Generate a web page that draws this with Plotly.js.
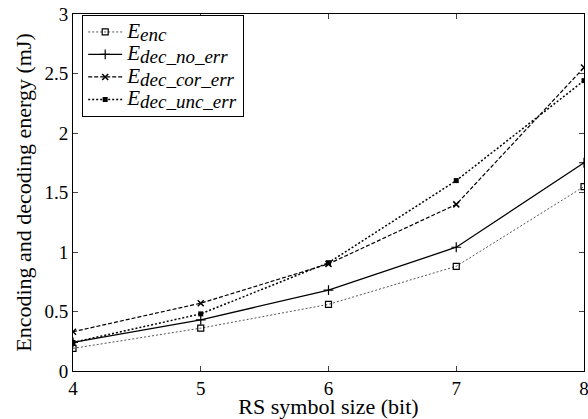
<!DOCTYPE html>
<html><head><meta charset="utf-8">
<script src="https://cdn.plot.ly/plotly-3.0.1.min.js"></script>
<style>body{margin:0;background:#fff}#c{width:588px;height:419px}</style>
</head><body><div id="c"></div>
<script>
const symbolSize = [4, 5, 6, 7, 8];
const eEnc = [0.19, 0.36, 0.56, 0.88, 1.55];
const eDecNoErr = [0.24, 0.43, 0.68, 1.04, 1.75];
const eDecCorErr = [0.33, 0.57, 0.90, 1.40, 2.55];
const eDecUncErr = [0.24, 0.48, 0.91, 1.60, 2.44];
const subs = ['enc', 'dec_no_err', 'dec_cor_err', 'dec_unc_err'];
const names = subs.map(s => '<i><span style="font-size:21px">E</span><sub><span style="font-size:19px">' + s + '</span></sub></i>');

const traces = [
  {x: symbolSize, y: eEnc, name: names[0], mode: 'lines+markers',
   line: {color: '#555', width: 1, dash: '2px,2px'},
   marker: {symbol: 'square-open', size: 6, color: '#000', line: {width: 1.2}}},
  {x: symbolSize, y: eDecNoErr, name: names[1], mode: 'lines+markers',
   line: {color: '#000', width: 1.3},
   marker: {symbol: 'cross-thin-open', size: 7, color: '#000', line: {width: 1.2, color: '#000'}}},
  {x: symbolSize, y: eDecCorErr, name: names[2], mode: 'lines+markers',
   line: {color: '#000', width: 1.2, dash: '4px,2px'},
   marker: {symbol: 'x-thin-open', size: 6, color: '#000', line: {width: 1.5, color: '#000'}}},
  {x: symbolSize, y: eDecUncErr, name: names[3], mode: 'lines+markers',
   line: {color: '#000', width: 1.5, dash: '2px,2px'},
   marker: {symbol: 'square', size: 5, color: '#000'}}
];

const layout = {
  width: 588, height: 419,
  margin: {l: 73, r: 4, t: 14, b: 48},
  paper_bgcolor: '#fff', plot_bgcolor: '#fff',
  font: {family: 'Liberation Serif, Times New Roman, serif', color: '#000', size: 19},
  showlegend: true,
  legend: {x: 0.018, y: 0.998, xanchor: 'left', yanchor: 'top',
    bordercolor: '#000', borderwidth: 1, bgcolor: '#fff',
    font: {size: 15, family: 'Liberation Serif, serif'}, tracegroupgap: 0, itemwidth: 34},
  xaxis: {range: [4, 8], tickvals: symbolSize, ticks: 'inside', ticklen: 5,
    ticklabeloverflow: 'allow',
    showline: true, linecolor: '#000', linewidth: 1, mirror: 'ticks', showgrid: false, zeroline: false,
    title: {text: 'RS symbol size (bit)', font: {size: 22}, standoff: 5},
    tickfont: {size: 19}},
  yaxis: {range: [0, 3], dtick: 0.5, ticks: 'inside', ticklen: 5,
    showline: true, linecolor: '#000', linewidth: 1, mirror: 'ticks', showgrid: false, zeroline: false,
    title: {text: 'Encoding and decoding energy (mJ)', font: {size: 22}, standoff: 6},
    tickfont: {size: 19}}
};
Plotly.newPlot('c', traces, layout, {displayModeBar: false, staticPlot: true});
</script></body></html>
